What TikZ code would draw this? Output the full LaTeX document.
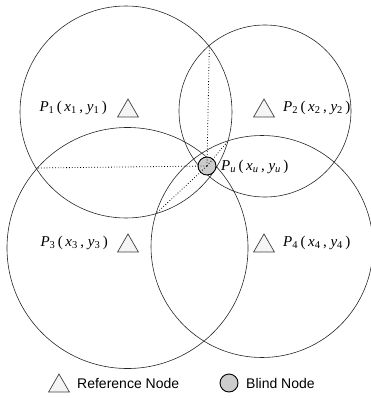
\documentclass[tikz,border=0pt]{standalone}
\usepackage{fontspec}
\setsansfont{Liberation Sans}
\newfontfamily\tnr{Liberation Serif}
\usetikzlibrary{shapes.geometric}
\tikzset{
  rangecircle/.style={draw=black!85, line width=0.6pt},
  refnode/.style={regular polygon, regular polygon sides=3, minimum size=24pt, inner sep=0pt,
    draw=black!75, line width=0.7pt, fill=black!4},
  blindnode/.style={circle, minimum size=18pt, inner sep=0pt, draw=black, line width=0.9pt, fill=black!20},
  lbl/.style={font=\tnr\fontsize{15}{17}\selectfont, inner sep=0pt},
  leg/.style={font=\sffamily\fontsize{14}{16}\selectfont, inner sep=0pt},
  chord/.style={dotted, line width=0.8pt}
}
\newcommand{\lab}[2]{\textit{P}\textsubscript{#1}\,(\,\textit{x}\textsubscript{#2}\,,\ \textit{y}\textsubscript{#2}\,)}
\begin{document}
\begin{tikzpicture}[x=1pt,y=-1pt]
\useasboundingbox (0,0) rectangle (370,398);
% range circles
\draw[rangecircle] (126,112) circle[radius=106pt];
\draw[rangecircle] (265,111) circle[radius=86pt];
\draw[rangecircle] (127.5,248) circle[radius=120.5pt];
\draw[rangecircle] (262,246.5) circle[radius=111pt];
% intersection points
\coordinate (i12) at (209.3,46.5);
\coordinate (i13) at (36,168);
\coordinate (i14a) at (228,141);
\coordinate (i14b) at (156,213.5);
% blind node
\node[blindnode] (bu) at (207,166) {};
\draw[chord] (bu.center) -- (i12);
\draw[chord] (bu.center) -- (i13);
\draw[chord] (bu.center) -- (i14a);
\draw[chord] (bu.center) -- (i14b);
% reference nodes
\node[refnode] (t1) at (128,111) {};
\node[refnode] (t2) at (264,111) {};
\node[refnode] (t3) at (128,246) {};
\node[refnode] (t4) at (264,246) {};
% labels
\node[lbl, anchor=east] (l1) at (107,108) {\lab{1}{1}};
\node[lbl, anchor=west] (l2) at (283,108) {\lab{2}{2}};
\node[lbl, anchor=east] (l3) at (108,243) {\lab{3}{3}};
\node[lbl, anchor=west] (l4) at (283,243) {\lab{4}{4}};
\node[lbl, anchor=west] (lu) at (221,167) {\textit{P}\textsubscript{\textit{u}}\,(\,\textit{x}\textsubscript{\textit{u}}\,,\ \textit{y}\textsubscript{\textit{u}}\,)};
% legend
\node[refnode] (lt) at (59,386) {};
\node[leg, anchor=west] (ltx) at (77,383) {Reference Node};
\node[blindnode] (lc) at (229,383) {};
\node[leg, anchor=west] (lcx) at (246,383) {Blind Node};
\end{tikzpicture}
\end{document}
